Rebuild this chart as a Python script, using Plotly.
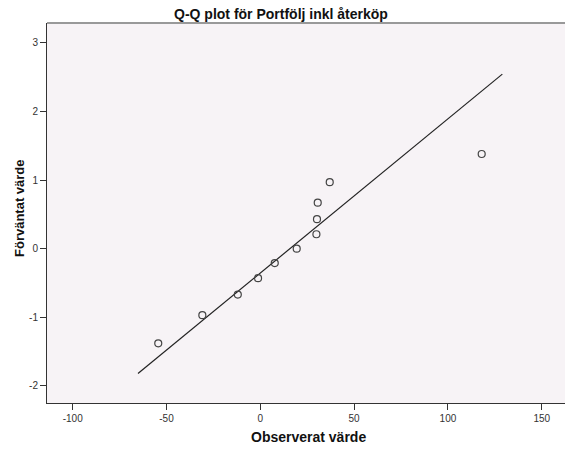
import plotly.graph_objects as go

# Observed values (x) and expected normal values (y)
observed = [-54.4, -30.9, -12.0, -1.2, 7.7, 19.4, 29.9, 30.2, 30.6, 37.0, 118.0]
expected = [-1.38, -0.97, -0.67, -0.43, -0.21, 0.0, 0.21, 0.43, 0.67, 0.97, 1.38]

# Reference line endpoints
line_x = [-65.2, 129.0]
line_y = [-1.82, 2.545]

x_ticks = [-100, -50, 0, 50, 100, 150]
y_ticks = [-2, -1, 0, 1, 2, 3]

title_text = "Q-Q plot för Portfölj inkl återköp"
x_title = "Observerat värde"
y_title = "Förväntat värde"

fig = go.Figure()
fig.add_trace(go.Scatter(x=line_x, y=line_y, mode="lines",
                         line=dict(color="#222222", width=1.2),
                         showlegend=False, hoverinfo="skip"))
fig.add_trace(go.Scatter(x=observed, y=expected, mode="markers",
                         marker=dict(symbol="circle-open", size=7,
                                     color="#444444", line=dict(width=1.2, color="#444444")),
                         showlegend=False))

font_family = "Liberation Sans, Arial, sans-serif"

W, H = 565, 451
L, R, T, B = 47, 0, 23, 48
pw, ph = W - L - R, H - T - B

def px_x(x):  # window pixel -> paper x
    return (x - L) / pw

def px_y(y):  # window pixel -> paper y
    return 1 - (y - T) / ph

fig.update_layout(
    width=W, height=H,
    margin=dict(l=L, r=R, t=T, b=B, autoexpand=False),
    paper_bgcolor="white",
    plot_bgcolor="#F7F3F6",
    font=dict(family=font_family, color="#222222"),
    xaxis=dict(range=[-113.7, 162.4], tickvals=x_ticks, ticktext=[str(v) for v in x_ticks],
               showgrid=False, zeroline=False, showline=True, linecolor="#333333", linewidth=1,
               ticks="outside", ticklen=6, tickcolor="#333333", automargin=False,
               tickfont=dict(size=10, color="#333333")),
    yaxis=dict(range=[-2.25, 3.29], tickvals=y_ticks, ticktext=[str(v) for v in y_ticks],
               showgrid=False, zeroline=False, showline=True, linecolor="#333333", linewidth=1,
               ticks="outside", ticklen=6, tickcolor="#333333", automargin=False,
               tickfont=dict(size=10, color="#333333")),
    shapes=[dict(type="line", xref="paper", yref="paper", x0=0, x1=1, y0=1, y1=1,
                 line=dict(color="#999999", width=2))],
    annotations=[
        dict(text="<b>" + title_text + "</b>", xref="paper", yref="paper",
             x=px_x(281), y=px_y(14), xanchor="center", yanchor="middle",
             showarrow=False, font=dict(size=14, color="#111111")),
        dict(text="<b>" + x_title + "</b>", xref="paper", yref="paper",
             x=px_x(308), y=px_y(437), xanchor="center", yanchor="middle",
             showarrow=False, font=dict(size=14, color="#111111")),
        dict(text="<b>" + y_title + "</b>", xref="paper", yref="paper",
             x=px_x(19), y=px_y(208), xanchor="center", yanchor="middle",
             textangle=-90, showarrow=False, font=dict(size=13, color="#111111")),
    ],
)

fig.write_html("out.html", config={"displayModeBar": False},
               post_script="document.body.style.margin='0px';")
